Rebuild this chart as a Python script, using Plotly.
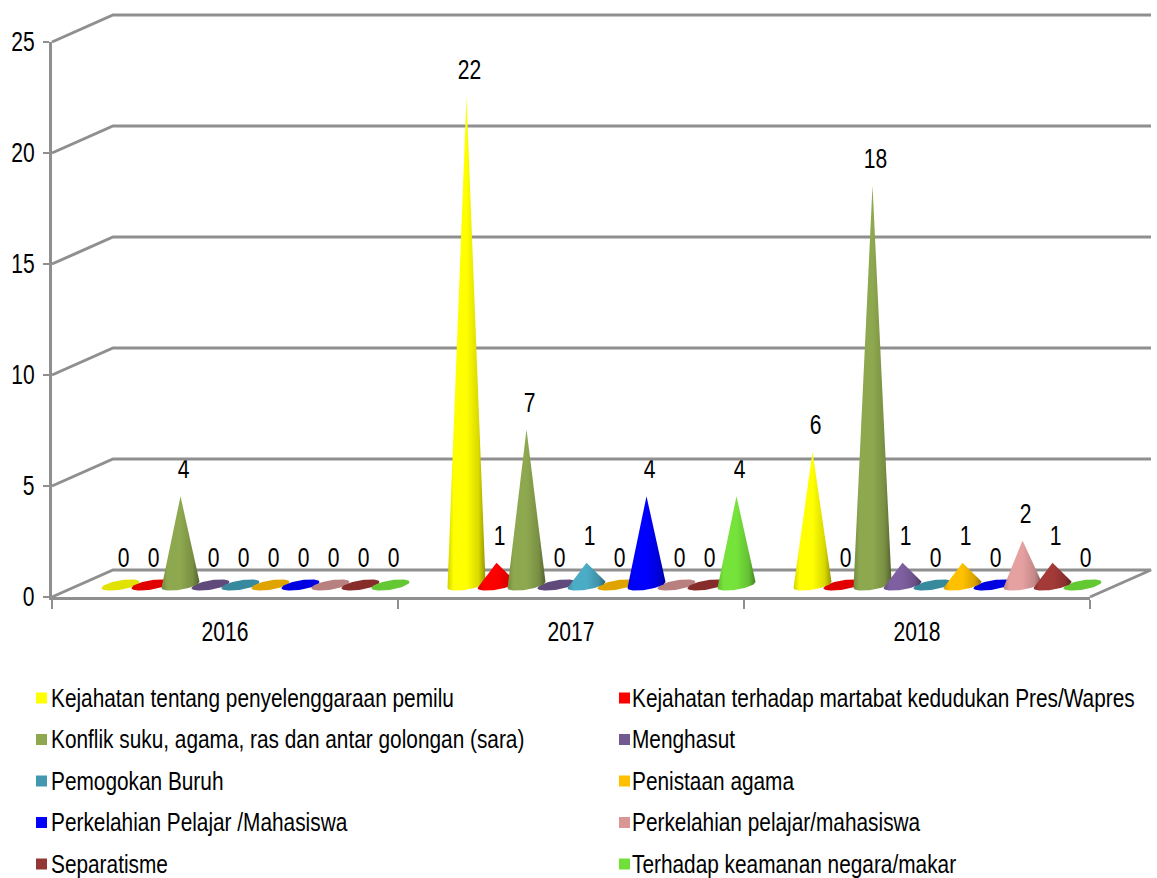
import numpy as np
import plotly.graph_objects as go

years = ["2016", "2017", "2018"]
series_names = [
    "Kejahatan tentang penyelenggaraan pemilu",
    "Kejahatan terhadap martabat kedudukan Pres/Wapres",
    "Konflik suku, agama, ras dan antar golongan (sara)",
    "Menghasut",
    "Pemogokan Buruh",
    "Penistaan agama",
    "Perkelahian Pelajar /Mahasiswa",
    "Perkelahian pelajar/mahasiswa",
    "Separatisme",
    "Terhadap keamanan negara/makar",
]
pemilu = [0, 22, 6]
martabat = [0, 1, 0]
sara = [4, 7, 18]
menghasut = [0, 0, 1]
buruh = [0, 1, 0]
penistaan = [0, 0, 1]
pelajar_a = [0, 4, 0]
pelajar_b = [0, 0, 2]
separatisme = [0, 0, 1]
makar = [0, 4, 0]
series_values = [pemilu, martabat, sara, menghasut, buruh, penistaan,
                 pelajar_a, pelajar_b, separatisme, makar]
y_ticks = [0, 5, 10, 15, 20, 25]

cone_colors = ["#FFFF00", "#FF0000", "#8EA84F", "#7E5F9F", "#4BACC6",
               "#FFC000", "#0000FF", "#E5A0A0", "#A43A38", "#76E33B"]
flat_colors = ["#E2E200", "#E00000", "#7F9A48", "#604A7B", "#378A9E",
               "#E0A400", "#0000E0", "#B98080", "#862D2B", "#63C832"]
key_colors = ["#FFFF00", "#FF0000", "#8EA84F", "#705A90", "#4198AF",
              "#FFC000", "#0000FF", "#D99694", "#943634", "#70E038"]

W, H = 1157, 878
FONT = "Liberation Sans"
GRID = "#8F8F8F"
X0, X1, Y0, Y25 = 52, 1090, 597, 42
PX_X = (X1 - X0) / 3
PX_Y = (Y0 - Y25) / 25


def shade(color, f):
    r, g, b = [int(color[i:i + 2], 16) for i in (1, 3, 5)]
    return f"rgb({round(r * f)},{round(g * f)},{round(b * f)})"


def hull(points):
    pts = sorted(set(points))

    def half(seq):
        out = []
        for p in seq:
            while len(out) > 1 and (
                (out[-1][0] - out[-2][0]) * (p[1] - out[-2][1])
                - (out[-1][1] - out[-2][1]) * (p[0] - out[-2][0])
            ) <= 0:
                out.pop()
            out.append(p)
        return out[:-1]

    return half(pts) + half(pts[::-1])


theta = np.linspace(0, 2 * np.pi, 73)[:-1]
rx, ry, shear = 19 / PX_X, 4.7 / PX_Y, 3.0 / PX_Y
first_offset, step = 68.5 / PX_X, 30 / PX_X
base_y = 12 / PX_Y
depth_x, depth_y = 61 / PX_X, 27 / PX_Y
label_dx, label_dy = 3 / PX_X, 24.5 / PX_Y

fig = go.Figure()

# data labels live on the real axes
for s, vals in enumerate(series_values):
    fig.add_trace(go.Scatter(
        x=[g + first_offset + s * step + label_dx for g in range(3)],
        y=[base_y + v + label_dy for v in vals],
        mode="text", text=[str(v) for v in vals], textposition="middle center",
        textfont=dict(family=FONT, size=27, color="black"),
        cliponaxis=False, hoverinfo="skip", showlegend=False))

col_px, row_px = 583, 41.5
key_x0, key_y0 = 41.5, 698
key_cols = [i % 2 for i in range(len(series_names))]
key_rows = [i // 2 for i in range(len(series_names))]

# colour key: two columns, five rows
fig.add_trace(go.Scatter(
    x=key_cols, y=key_rows, mode="markers",
    marker=dict(symbol="square", size=11, color=key_colors),
    xaxis="x2", yaxis="y2", cliponaxis=False, hoverinfo="skip", showlegend=False))
fig.add_trace(go.Scatter(
    x=[c * 581 / col_px + 9.5 / col_px for c in key_cols],
    y=[r + 2 / row_px for r in key_rows],
    mode="text", text=series_names, textposition="middle right",
    textfont=dict(family=FONT, size=26.7, color="black"),
    xaxis="x2", yaxis="y2", cliponaxis=False, hoverinfo="skip", showlegend=False))

# walls and floor, on a full-page overlay in the same data units
for v in y_ticks:
    xs = [0, depth_x, 3 + depth_x]
    ys = [v, v + depth_y, v + depth_y]
    if v == 0:
        xs.append(3)
        ys.append(0)
    fig.add_trace(go.Scatter(x=xs, y=ys, mode="lines", xaxis="x3", yaxis="y3",
                             line=dict(color=GRID, width=3), hoverinfo="skip",
                             showlegend=False))

marks = []
for s, vals in enumerate(series_values):
    for g, v in enumerate(vals):
        marks.append((v > 0, s, g, v))
marks.sort(key=lambda m: (m[0], m[1], m[2]))

for is_cone, s, g, v in marks:
    cx = g + first_offset + s * step
    ex = cx + rx * np.cos(theta)
    ey = base_y + ry * np.sin(theta) + shear * np.cos(theta)
    pts = list(zip(ex.tolist(), ey.tolist()))
    if is_cone:
        poly = hull(pts + [(cx, base_y + v)])
        c = cone_colors[s]
        fill = dict(fillgradient=dict(
            type="horizontal",
            colorscale=[[0, shade(c, 0.82)], [0.16, c], [0.5, c],
                        [0.82, shade(c, 0.85)], [1, shade(c, 0.58)]]))
    else:
        poly = pts
        fill = dict(fillcolor=flat_colors[s])
    poly = poly + [poly[0]]
    fig.add_trace(go.Scatter(
        x=[p[0] for p in poly], y=[p[1] for p in poly], mode="lines",
        fill="toself", line=dict(width=0), xaxis="x3", yaxis="y3",
        name=f"{series_names[s]} {years[g]}", hoverinfo="name",
        showlegend=False, **fill))

fig.update_layout(
    width=W, height=H, autosize=False,
    margin=dict(l=0, r=0, t=0, b=0, pad=0, autoexpand=False),
    paper_bgcolor="white", plot_bgcolor="rgba(0,0,0,0)",
    showlegend=False,
    font=dict(family=FONT, size=24, color="black"),
    xaxis=dict(
        domain=[X0 / W, X1 / W], range=[0, 3], showgrid=False, zeroline=False,
        showline=True, linecolor=GRID, linewidth=3, automargin=False,
        tickmode="array", tickvals=[0.5, 1.5, 2.5], ticktext=years, ticks="",
        ticklabelstandoff=9, tickfont=dict(family=FONT, size=27),
        minor=dict(tickmode="array", tickvals=[0, 1, 2, 3], ticks="outside",
                   ticklen=9, tickwidth=2, tickcolor=GRID, showgrid=False),
    ),
    yaxis=dict(
        domain=[1 - Y0 / H, 1 - Y25 / H], range=[0, 25], showgrid=False,
        zeroline=False, showline=True, linecolor=GRID, linewidth=3, automargin=False,
        tickmode="array", tickvals=y_ticks, ticks="outside", ticklen=6,
        tickwidth=2, tickcolor=GRID, ticklabelstandoff=3,
        tickfont=dict(family=FONT, size=27),
    ),
    xaxis2=dict(domain=[0, 1], visible=False, anchor="y2",
                range=[-key_x0 / col_px, (W - key_x0) / col_px]),
    yaxis2=dict(domain=[0, 1], visible=False, anchor="x2",
                range=[(H - key_y0) / row_px, -key_y0 / row_px]),
    xaxis3=dict(domain=[0, 1], visible=False, anchor="y3",
                range=[-X0 / PX_X, (W - X0) / PX_X]),
    yaxis3=dict(domain=[0, 1], visible=False, anchor="x3",
                range=[-(H - Y0) / PX_Y, Y0 / PX_Y]),
)

condense = """
document.body.style.margin='0';
document.documentElement.style.overflow='hidden';
function condenseText(){
  document.querySelectorAll('.main-svg text').forEach(function(t){
    if(t.dataset.cond||!t.textContent) return;
    var x=parseFloat(t.getAttribute('x'))||0;
    var prev=t.getAttribute('transform')||'';
    t.setAttribute('transform',prev+' translate('+x+',0) scale(0.78,1) translate('+(-x)+',0)');
    t.dataset.cond='1';
  });
}
condenseText();setTimeout(condenseText,50);
"""
fig.write_html("out.html", post_script=condense, config=dict(displayModeBar=False))
